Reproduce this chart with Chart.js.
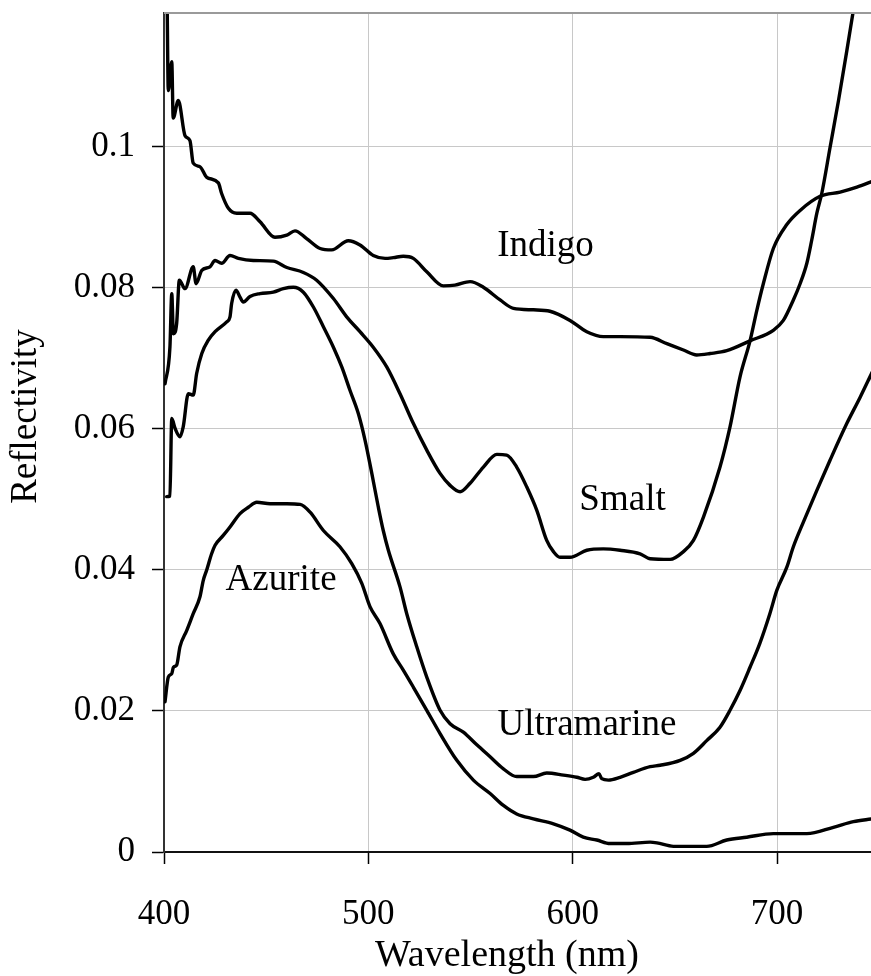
<!DOCTYPE html>
<html><head><meta charset="utf-8">
<script src="https://cdn.jsdelivr.net/npm/chart.js@4/dist/chart.umd.min.js"></script>
<style>html,body{margin:0;padding:0;background:#fff;} #c{display:block;}</style>
</head><body>
<canvas id="c" width="871" height="976"></canvas>
<script>
// ---- data (wavelength nm, reflectivity) ----
const indigo = [[401.4,0.125],[401.6,0.1189],[402.1,0.1080],[403.8,0.1121],[404.5,0.1041],[407.0,0.1066],[410.3,0.1016],[412.7,0.1009],[414.3,0.0977],[417.6,0.0972],[420.9,0.0957],[426.6,0.0949],[428.2,0.0934],[431.5,0.0913],[435.6,0.0906],[442.1,0.0906],[447.0,0.0894],[454.3,0.0872],[460.1,0.0875],[464.1,0.0881],[469.8,0.0870],[476.4,0.0856],[482.1,0.0854],[490.2,0.0867],[495.9,0.0861],[502.4,0.0846],[508.2,0.0842],[512.2,0.0843],[517.1,0.0845],[522.0,0.0842],[528.6,0.0823],[536.7,0.0803],[542.4,0.0804],[549.8,0.0809],[556.3,0.0801],[564.5,0.0783],[571.0,0.0771],[580.8,0.0769],[588.9,0.0767],[598.7,0.0754],[606.9,0.0738],[615.0,0.0731],[623.2,0.0731],[637.9,0.0730],[646.1,0.0721],[654.2,0.0712],[660.7,0.0705],[667.3,0.0707],[675.4,0.0711],[686.8,0.0725],[698.2,0.0740],[703.1,0.0754],[708.0,0.0783],[711.3,0.0806],[714.6,0.0835],[717.0,0.0868],[719.5,0.0906],[721.9,0.0934],[726.0,0.1000],[730.1,0.1066],[734.2,0.1137],[737.1,0.1189],[740.0,0.124]];
const smalt = [[400.5,0.0664],[402.9,0.0716],[403.8,0.0792],[404.6,0.0735],[406.2,0.0750],[407.5,0.0811],[410.3,0.0799],[414.3,0.0830],[415.7,0.0806],[418.5,0.0825],[422.5,0.0830],[425.0,0.0839],[428.2,0.0835],[432.3,0.0846],[436.4,0.0842],[443.7,0.0839],[453.5,0.0838],[460.1,0.0829],[468.2,0.0822],[474.7,0.0811],[482.9,0.0785],[489.4,0.0759],[495.9,0.0738],[502.4,0.0716],[509.0,0.0688],[515.5,0.0650],[522.0,0.0608],[528.6,0.0570],[535.1,0.0537],[540.0,0.0520],[544.9,0.0511],[549.8,0.0523],[556.3,0.0546],[562.9,0.0564],[567.7,0.0563],[572.6,0.0546],[577.5,0.0518],[582.4,0.0485],[587.3,0.0442],[590.6,0.0426],[593.8,0.0418],[598.7,0.0418],[606.9,0.0428],[615.0,0.0430],[623.2,0.0428],[633.0,0.0423],[637.9,0.0416],[647.7,0.0415],[654.2,0.0426],[659.1,0.0442],[664.0,0.0475],[672.1,0.0546],[677.0,0.0603],[681.9,0.0674],[686.8,0.0725],[690.1,0.0768],[693.3,0.0806],[698.2,0.0856],[704.8,0.0890],[711.3,0.0910],[721.1,0.0930],[730.9,0.0936],[739.1,0.0943],[746.5,0.0951]];
const ultramarine = [[401.3,0.0504],[402.9,0.0505],[403.8,0.0615],[405.4,0.0601],[407.8,0.0589],[409.4,0.0603],[411.9,0.0650],[414.3,0.0648],[416.0,0.0679],[418.5,0.0707],[421.7,0.0726],[425.0,0.0738],[430.7,0.0752],[432.3,0.0759],[433.1,0.0778],[435.2,0.0797],[437.2,0.0787],[438.8,0.0780],[442.1,0.0788],[447.0,0.0792],[453.5,0.0794],[458.4,0.0799],[463.3,0.0801],[468.2,0.0794],[473.1,0.0773],[478.0,0.0745],[482.9,0.0716],[487.0,0.0688],[491.0,0.0655],[495.1,0.0622],[498.4,0.0584],[501.7,0.0537],[504.9,0.0489],[507.3,0.0456],[509.8,0.0428],[515.5,0.0376],[518.8,0.0338],[523.7,0.0291],[528.6,0.0248],[535.1,0.0201],[540.0,0.0182],[546.5,0.0170],[553.1,0.0152],[559.6,0.0135],[566.1,0.0118],[572.6,0.0107],[580.8,0.0107],[587.3,0.0112],[595.5,0.0109],[602.0,0.0106],[606.1,0.0103],[610.1,0.0106],[612.9,0.0111],[614.2,0.0104],[617.5,0.0102],[623.2,0.0106],[629.7,0.0113],[637.9,0.0121],[642.8,0.0123],[652.6,0.0130],[659.1,0.0140],[665.6,0.0158],[672.1,0.0177],[677.0,0.0201],[681.9,0.0229],[686.8,0.0262],[691.6,0.0296],[696.5,0.0338],[699.9,0.0371],[704.8,0.0404],[708.0,0.0433],[712.9,0.0468],[719.5,0.0513],[726.0,0.0556],[734.2,0.0608],[740.7,0.0645],[746.5,0.0680]];
const azurite = [[400.5,0.0213],[402.1,0.0248],[403.8,0.0253],[404.6,0.0262],[406.2,0.0265],[407.8,0.0291],[411.1,0.0314],[414.3,0.0338],[417.6,0.0362],[419.2,0.0385],[420.9,0.0400],[423.3,0.0423],[425.0,0.0435],[429.0,0.0449],[432.3,0.0461],[437.2,0.0480],[441.3,0.0489],[445.4,0.0496],[451.9,0.0494],[460.1,0.0494],[466.6,0.0493],[471.5,0.0482],[478.0,0.0456],[486.1,0.0433],[491.9,0.0409],[496.8,0.0381],[500.8,0.0348],[505.7,0.0324],[512.2,0.0281],[517.1,0.0258],[522.0,0.0234],[528.6,0.0201],[535.1,0.0168],[543.3,0.0130],[551.4,0.0102],[559.6,0.0083],[566.1,0.0066],[572.6,0.0054],[580.8,0.0047],[590.6,0.0040],[598.7,0.0031],[605.2,0.0021],[611.8,0.0017],[618.3,0.0012],[626.5,0.0012],[637.9,0.0014],[641.2,0.0013],[649.3,0.0008],[665.6,0.0008],[675.4,0.0017],[685.2,0.0021],[698.2,0.0026],[714.6,0.0026],[727.6,0.0035],[737.4,0.0043],[746.5,0.0047]];

const xTicks = [400, 500, 600, 700];
const xTickLabels = ['400', '500', '600', '700'];
const yTicks = [0, 0.02, 0.04, 0.06, 0.08, 0.1];
const yTickLabels = ['0', '0.02', '0.04', '0.06', '0.08', '0.1'];
const xRange = [400, 746];
const yRange = [0, 0.119];
const xTitle = 'Wavelength (nm)';
const yTitle = 'Reflectivity';

const labelNames = ['Indigo', 'Smalt', 'Azurite', 'Ultramarine'];
const labelX = [586.7, 624.4, 457.3, 607.0];
const labelY = [0.0846, 0.0485, 0.0371, 0.0166];

const FONT = '"Liberation Serif", "Times New Roman", serif';

function toPts(arr) { return arr.map(p => ({x: p[0], y: p[1]})); }
function ds(name, arr) {
  return {label: name, data: toPts(arr), borderColor: '#000', borderWidth: 3.4,
          pointRadius: 0, cubicInterpolationMode: 'monotone', fill: false,
          borderJoinStyle: 'round', borderCapStyle: 'round'};
}

const extras = {
  id: 'extras',
  afterDatasetsDraw(chart) {
    const {ctx, chartArea, scales} = chart;
    ctx.save();
    // top frame line
    ctx.strokeStyle = '#9a9a9a';
    ctx.lineWidth = 2;
    ctx.beginPath();
    ctx.moveTo(chartArea.left, chartArea.top);
    ctx.lineTo(chartArea.right, chartArea.top);
    ctx.stroke();
    // series annotations
    ctx.fillStyle = '#000';
    ctx.font = '37px ' + FONT;
    ctx.textAlign = 'center';
    ctx.textBaseline = 'alphabetic';
    labelNames.forEach((n, i) => {
      ctx.fillText(n, scales.x.getPixelForValue(labelX[i]), scales.y.getPixelForValue(labelY[i]));
    });
    // axis titles
    ctx.font = '38px ' + FONT;
    ctx.fillText(xTitle, (chartArea.left + chartArea.right) / 2 - 10.5, chart.height - 10);
    ctx.font = '37px ' + FONT;
    ctx.translate(36, (chartArea.top + chartArea.bottom) / 2 - 16);
    ctx.rotate(-Math.PI / 2);
    ctx.fillText(yTitle, 0, 0);
    ctx.restore();
  }
};

function draw() {
  new Chart(document.getElementById('c'), {
    type: 'line',
    data: {datasets: [ds('Indigo', indigo), ds('Smalt', smalt), ds('Ultramarine', ultramarine), ds('Azurite', azurite)]},
    plugins: [extras],
    options: {
      responsive: false,
      animation: false,
      layout: {padding: {top: 13, right: 0, left: 0, bottom: 0}},
      plugins: {legend: {display: false}, tooltip: {enabled: false}},
      scales: {
        x: {
          type: 'linear', min: xRange[0], max: xRange[1],
          afterBuildTicks: a => { a.ticks = xTicks.map(v => ({value: v})); },
          afterFit: s => { s.height = 124; s.paddingLeft = 0; s.paddingRight = 0; },
          grid: {color: '#c8c8c8', lineWidth: 1, tickLength: 12, tickColor: '#000', tickWidth: 1.5},
          border: {color: '#111', width: 2},
          ticks: {font: {family: FONT, size: 35}, color: '#000', padding: 30, maxRotation: 0, autoSkip: false,
                  callback: (v, i) => xTickLabels[i]},
          title: {display: false}
        },
        y: {
          type: 'linear', min: yRange[0], max: yRange[1],
          afterBuildTicks: a => { a.ticks = yTicks.map(v => ({value: v})); },
          afterFit: s => { s.width = 164; s.paddingTop = 0; s.paddingBottom = 0; },
          grid: {color: '#c8c8c8', lineWidth: 1, tickLength: 12, tickColor: '#000', tickWidth: 1.5},
          border: {color: '#333', width: 2},
          ticks: {font: {family: FONT, size: 35}, color: '#000', padding: 17, autoSkip: false,
                  callback: (v, i) => yTickLabels[i]},
          title: {display: false}
        }
      }
    }
  });
}
if (document.fonts && document.fonts.load) {
  document.fonts.load('35px "Liberation Serif"').then(draw, draw);
} else { draw(); }
</script>
</body></html>
